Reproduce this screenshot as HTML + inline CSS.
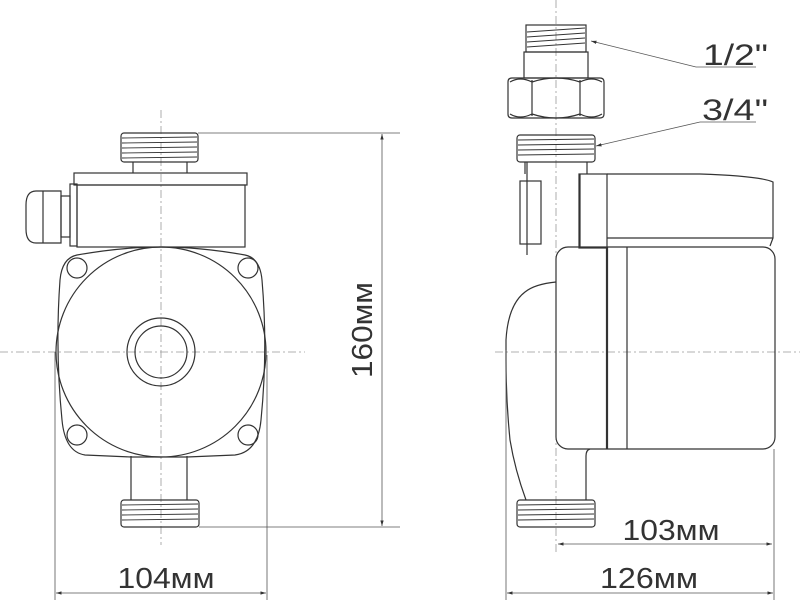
<!DOCTYPE html>
<html><head><meta charset="utf-8"><style>html,body{margin:0;padding:0;background:#fff}svg{display:block}</style></head>
<body>
<svg width="800" height="600" viewBox="0 0 800 600" xmlns="http://www.w3.org/2000/svg" font-family="Liberation Sans, sans-serif">
<defs>
<marker id="a" viewBox="0 0 10 10" refX="10" refY="5" markerWidth="7" markerHeight="7" orient="auto-start-reverse"><path d="M0,2 L10,5 L0,8 z" fill="#333"/></marker>
</defs>
<g stroke="#999" stroke-width="0.8" stroke-dasharray="8,3,2,3" fill="none">
<line x1="161" y1="110" x2="161" y2="545"/>
<line x1="0" y1="352" x2="305" y2="352"/>
<line x1="556" y1="0" x2="556" y2="555"/>
<line x1="495" y1="352" x2="800" y2="352"/>
</g>
<g stroke="#333" stroke-width="1.2" fill="none">
<rect x="121" y="133" width="77" height="29" rx="3"/>
<g stroke-width="0.9"><line x1="122" y1="138" x2="197" y2="137"/><line x1="122" y1="143" x2="197" y2="142"/><line x1="122" y1="148" x2="197" y2="147"/><line x1="122" y1="153" x2="197" y2="152"/><line x1="122" y1="158" x2="197" y2="157"/></g>
<path d="M133,162 V173 M187,162 V173"/>
<rect x="74" y="173" width="173" height="12"/>
<rect x="77" y="185" width="168" height="62"/>
<rect x="70" y="184" width="7" height="62"/>
<rect x="61" y="196" width="9" height="41"/>
<path d="M61,191 H36 Q26,191 26,205 V229 Q26,243 36,243 H61 Z"/>
<line x1="43" y1="191" x2="43" y2="243"/>
<path d="M77,255 Q62,258 60,280 Q55,350 62,420 Q65,452 85,455 L131,457 L187,457 L235,455 Q258,452 261,420 Q268,350 262,280 Q260,258 245,255 Q200,247 161,247 Q122,247 77,255 Z"/>
<circle cx="161" cy="352" r="105"/>
<circle cx="77" cy="268" r="10"/><circle cx="248" cy="268" r="10"/>
<circle cx="77" cy="435" r="10"/><circle cx="248" cy="435" r="10"/>
<circle cx="161" cy="352" r="34"/><circle cx="161" cy="352" r="26"/>
<path d="M131,456 V500 M187,456 V500"/>
<rect x="121" y="500" width="78" height="27" rx="3"/>
<g stroke-width="0.9"><line x1="122" y1="505" x2="198" y2="504"/><line x1="122" y1="510" x2="198" y2="509"/><line x1="122" y1="515" x2="198" y2="514"/><line x1="122" y1="520" x2="198" y2="519"/></g>
</g>
<g stroke="#555" stroke-width="0.8" fill="none">
<line x1="198" y1="133" x2="400" y2="133"/>
<line x1="199" y1="527" x2="400" y2="527"/>
<line x1="382" y1="134" x2="382" y2="526" marker-start="url(#a)" marker-end="url(#a)"/>
<line x1="55" y1="352" x2="55" y2="600"/>
<line x1="267" y1="355" x2="267" y2="600"/>
<line x1="56" y1="593" x2="266" y2="593" marker-start="url(#a)" marker-end="url(#a)"/>
</g>
<g fill="#333" font-size="29">
<text x="372" y="330" text-anchor="middle" textLength="96" lengthAdjust="spacingAndGlyphs" transform="rotate(-90 372 330)">160мм</text>
<text x="166" y="588" text-anchor="middle" textLength="97" lengthAdjust="spacingAndGlyphs">104мм</text>
</g>
<g stroke="#333" stroke-width="1.2" fill="none">
<rect x="526" y="25" width="60" height="27"/>
<g stroke-width="0.9"><line x1="527" y1="32" x2="585" y2="28"/><line x1="527" y1="37" x2="585" y2="33"/><line x1="527" y1="42" x2="585" y2="38"/><line x1="527" y1="47" x2="585" y2="43"/></g>
<rect x="524" y="52" width="64" height="26"/>
<path d="M512,78 H600 Q604,78 604,82 V114 Q604,118 600,118 H512 Q508,118 508,114 V82 Q508,78 512,78 Z"/>
<path d="M532,80 V116 M580,80 V116 M510,82 Q520,76 532,82 Q556,74 580,82 Q592,76 602,82 M510,114 Q520,120 532,114 Q556,122 580,114 Q592,120 602,114"/>
<rect x="517" y="135" width="78" height="27" rx="3"/>
<g stroke-width="0.9"><line x1="518" y1="140" x2="594" y2="139"/><line x1="518" y1="145" x2="594" y2="144"/><line x1="518" y1="150" x2="594" y2="149"/><line x1="518" y1="155" x2="594" y2="154"/></g>
<path d="M525,162 V174 M587,162 V174"/>
<path d="M527,162 V255 M580,174 V248"/>
<rect x="520" y="181" width="21" height="63"/>
<rect x="579" y="174" width="28" height="74"/>
<path d="M607,174 H700 Q760,176 773,182 V238 L770,246 M607,238 H773"/>
<rect x="556" y="247" width="219" height="202" rx="12"/>
<line x1="607" y1="247" x2="607" y2="449" stroke-width="2.2"/>
<line x1="627" y1="247" x2="627" y2="449"/>
<path d="M556,282 Q535,284 525,292 Q508,305 506,340 V360 Q506,400 510,440 Q515,470 526,500"/>
<path d="M590,449 Q586,450 586,456 V500"/>
<rect x="517" y="500" width="78" height="27" rx="3"/>
<g stroke-width="0.9"><line x1="518" y1="505" x2="594" y2="504"/><line x1="518" y1="510" x2="594" y2="509"/><line x1="518" y1="515" x2="594" y2="514"/><line x1="518" y1="520" x2="594" y2="519"/></g>
</g>
<g stroke="#555" stroke-width="0.8" fill="none">
<line x1="506" y1="350" x2="506" y2="600"/>
<line x1="774" y1="449" x2="774" y2="600"/>
<line x1="558" y1="544" x2="772" y2="544" marker-start="url(#a)" marker-end="url(#a)"/>
<line x1="507" y1="593" x2="773" y2="593" marker-start="url(#a)" marker-end="url(#a)"/>
<line x1="696" y1="67" x2="756" y2="67"/>
<line x1="696" y1="67" x2="591" y2="41" marker-end="url(#a)"/>
<line x1="700" y1="122" x2="756" y2="122"/>
<line x1="700" y1="122" x2="596" y2="146" marker-end="url(#a)"/>
</g>
<g fill="#333" font-size="29">
<text x="671" y="540" text-anchor="middle" textLength="97" lengthAdjust="spacingAndGlyphs">103мм</text>
<text x="649" y="588" text-anchor="middle" textLength="98" lengthAdjust="spacingAndGlyphs">126мм</text>
<text x="703" y="65" font-size="30" textLength="65" lengthAdjust="spacingAndGlyphs">1/2"</text>
<text x="702" y="120" font-size="30" textLength="66" lengthAdjust="spacingAndGlyphs">3/4"</text>
</g>
</svg>
</body></html>
